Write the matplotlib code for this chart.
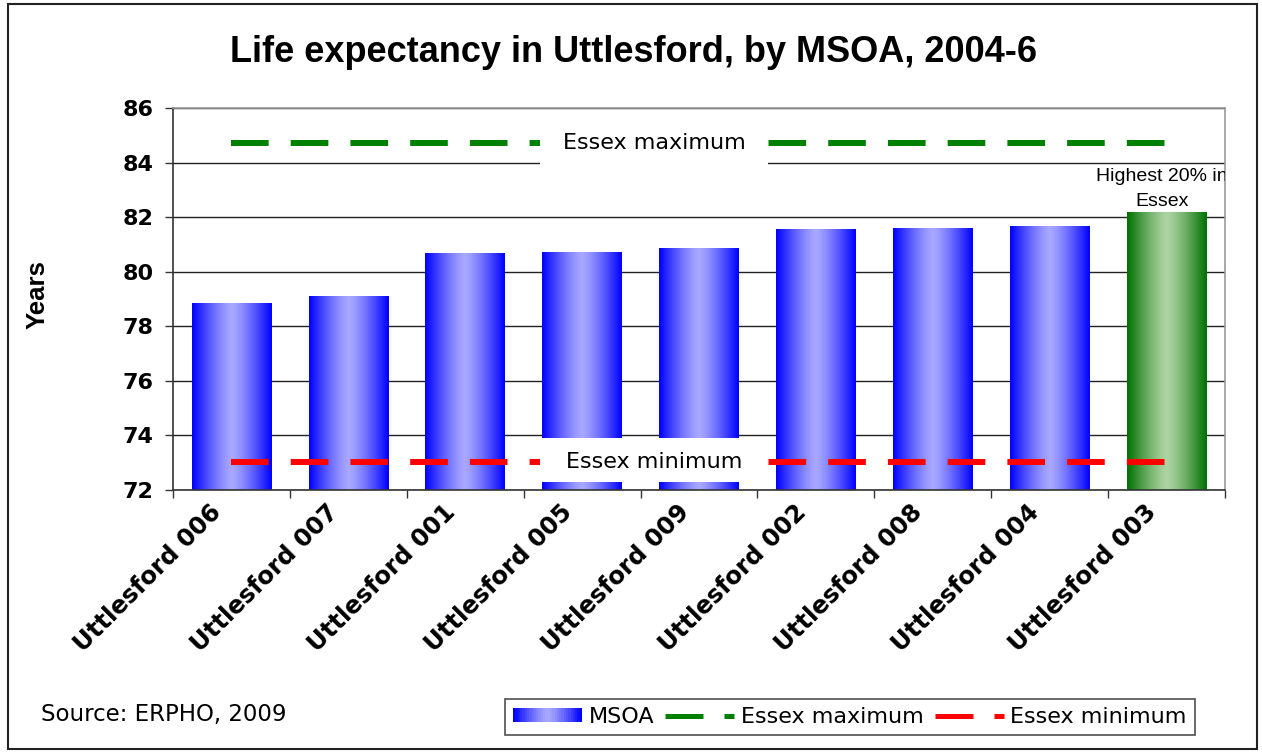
import numpy as np
import matplotlib
matplotlib.use("Agg")
import matplotlib.pyplot as plt
from matplotlib.patches import Rectangle
from matplotlib.lines import Line2D
from matplotlib.legend_handler import HandlerBase

# data
areas = ["Uttlesford 006", "Uttlesford 007", "Uttlesford 001", "Uttlesford 005",
         "Uttlesford 009", "Uttlesford 002", "Uttlesford 008", "Uttlesford 004",
         "Uttlesford 003"]
life_exp = [78.82, 79.08, 80.68, 80.72, 80.86, 81.53, 81.6, 81.67, 82.18]
highest_20 = [False, False, False, False, False, False, False, False, True]
essex_max = 84.72
essex_min = 73.03
y_ticks = [72, 74, 76, 78, 80, 82, 84, 86]

BLUE_EDGE = np.array([0, 0, 255]) / 255
BLUE_MID = np.array([168, 168, 255]) / 255
GREEN_EDGE = np.array([0, 112, 0]) / 255
GREEN_MID = np.array([172, 212, 162]) / 255


def gradient(edge, mid, n=128):
    t = np.abs(np.linspace(-1, 1, n)) ** 1.3
    return mid[None, :] * (1 - t[:, None]) + edge[None, :] * t[:, None]


class GradientHandler(HandlerBase):
    def create_artists(self, legend, orig_handle, xdescent, ydescent,
                       width, height, fontsize, trans):
        cols = gradient(BLUE_EDGE, BLUE_MID, 30)
        w = width / len(cols)
        out = []
        for i, c in enumerate(cols):
            r = Rectangle((-xdescent + i * w, -ydescent), w * 1.05, height,
                          facecolor=c, edgecolor="none", transform=trans)
            out.append(r)
        return out


fig = plt.figure(figsize=(12.62, 7.52), dpi=100)
fig.patches.append(Rectangle((8 / 1262, 3 / 752), 1249 / 1262, 745 / 752,
                             transform=fig.transFigure, fill=False,
                             edgecolor="#222222", linewidth=1.5))

ax = fig.add_axes([173 / 1262, 1 - 490 / 752, 1052 / 1262, 382 / 752])
ax.set_xlim(-0.5, len(areas) - 0.5)
ax.set_ylim(72, 86)
ybot = ax.get_ylim()[0]

x = np.arange(len(areas))
bars = ax.bar(x, life_exp, width=0.68, color="none", edgecolor="none", zorder=2)
for b, hi in zip(bars, highest_20):
    g = gradient(GREEN_EDGE, GREEN_MID) if hi else gradient(BLUE_EDGE, BLUE_MID)
    ax.imshow(g[None, :, :], extent=[b.get_x(), b.get_x() + b.get_width(),
                                     ybot, b.get_height()],
              aspect="auto", zorder=2)

ax.plot([x[0], x[-1]], [essex_max, essex_max], color="#008000", lw=4.3,
        dashes=(6.3, 3.7), zorder=3)
ax.plot([x[0], x[-1]], [essex_min, essex_min], color="#ff0000", lw=4.3,
        dashes=(6.3, 3.7), zorder=3)

# white label boxes
ax.add_patch(Rectangle((2.64, 83.9), 1.95, 1.6, facecolor="white",
                       edgecolor="none", zorder=4))
ax.add_patch(Rectangle((2.64, 72.3), 1.95, 1.6, facecolor="white",
                       edgecolor="none", zorder=4))
ax.text(3.62, 84.72, "Essex maximum", ha="center", va="center",
        fontsize=16, family="DejaVu Sans", zorder=5)
ax.text(3.62, 73.03, "Essex minimum", ha="center", va="center",
        fontsize=16, family="DejaVu Sans", zorder=5)
ax.text(7.96, 83.03, "Highest 20% in\nEssex", ha="center", va="center",
        fontsize=14, family="Liberation Sans", linespacing=1.65,
        zorder=5, clip_on=True)

ax.set_yticks(y_ticks)
ax.set_yticklabels([str(v) for v in y_ticks], fontsize=16,
                   fontweight="bold", family="DejaVu Sans")
# label anchors sit a little left of the bar centres, as in the original
ax.set_xticks(x - 0.19)
ax.set_xticklabels(areas, rotation=45, ha="right", rotation_mode="anchor",
                   fontsize=17.5, fontweight="bold", family="DejaVu Sans")
ax.set_xticks(np.arange(-0.5, len(areas)), minor=True)
ax.tick_params(axis="x", which="major", length=0, pad=7)
ax.tick_params(axis="x", which="minor", length=6, width=1, color="#333333")
ax.tick_params(axis="y", length=6, width=1, color="#333333", pad=8)

ax.set_axisbelow(True)
ax.yaxis.grid(True, color="#222222", lw=1)
ax.spines["left"].set_color("#333333")
ax.spines["bottom"].set_color("#333333")
ax.spines["top"].set_color("#999999")
ax.spines["right"].set_color("#999999")
for s in ax.spines.values():
    s.set_linewidth(1.2)

fig.text(38 / 1262, 1 - 295 / 752, "Years", rotation=90, ha="center",
         va="center", fontsize=18.5, fontweight="bold", family="Liberation Sans")

fig.text(634 / 1262, 1 - 52 / 752, "Life expectancy in Uttlesford, by MSOA, 2004-6",
         ha="center", va="center", fontsize=26, fontweight="bold",
         family="Liberation Sans")
fig.text(41 / 1262, 1 - 714 / 752, "Source: ERPHO, 2009", ha="left",
         va="center", fontsize=16.5, family="DejaVu Sans")

msoa_h = Rectangle((0, 0), 1, 1)
max_h = Line2D([], [], color="#008000", lw=3.6, dashes=(7.6, 4.2))
min_h = Line2D([], [], color="#ff0000", lw=3.6, dashes=(7.6, 4.2))
leg = fig.legend([msoa_h, max_h, min_h], ["MSOA", "Essex maximum", "Essex minimum"],
                 handler_map={Rectangle: GradientHandler()}, ncol=3,
                 loc="center", bbox_to_anchor=(850 / 1262, 1 - 717 / 752),
                 frameon=True, fancybox=False, edgecolor="#222222",
                 prop={"family": "DejaVu Sans", "size": 16},
                 handlelength=3.1, handleheight=0.6, handletextpad=0.3,
                 columnspacing=0.5, borderpad=0.35, borderaxespad=0)
leg.get_frame().set_linewidth(1.2)

fig.savefig("out.png", dpi=100)
